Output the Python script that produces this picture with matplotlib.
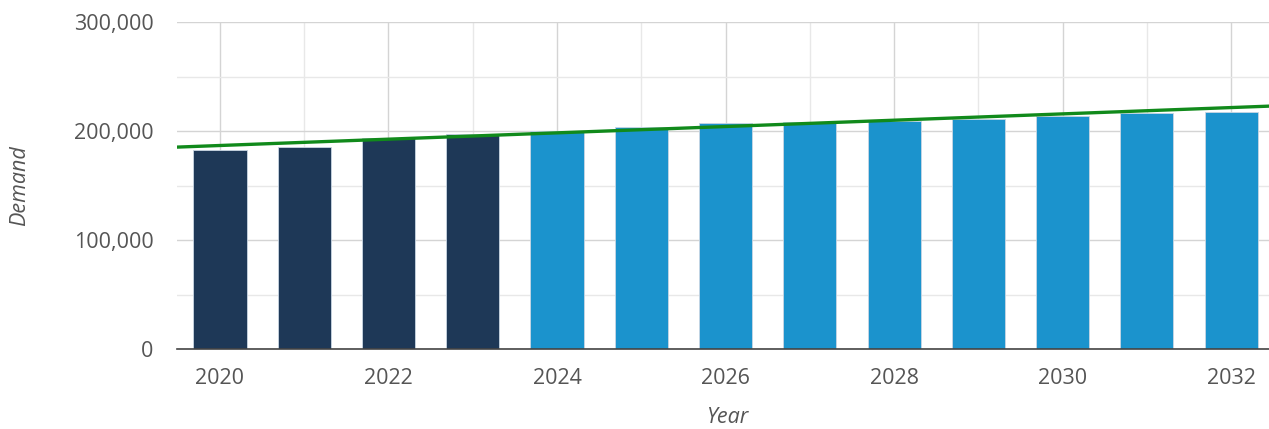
import matplotlib
matplotlib.use("Agg")
import matplotlib.pyplot as plt
from matplotlib.ticker import FuncFormatter, MultipleLocator

# Demand per year; first four years are actuals
years = [2020, 2021, 2022, 2023, 2024, 2025, 2026, 2027, 2028, 2029, 2030, 2031, 2032]
demand = [182500, 185500, 193800, 197200, 200000, 203600, 207000, 208000,
          209400, 210900, 213900, 216100, 217600]
actual_years = 4

# trend line, read at the first and last year
trend_years = [2020, 2032]
trend_values = [186700, 221500]

DARK = "#1e3857"
LIGHT = "#1b93cd"
GREEN = "#118a1b"
TEXT = "#555555"

plt.rcParams["font.family"] = ["Open Sans", "DejaVu Sans"]

fig = plt.figure(figsize=(12.69, 4.29), dpi=100)
ax = fig.add_axes([177 / 1269, 80 / 429, 1 - 177 / 1269, 327 / 429])

colors = [DARK if i < actual_years else LIGHT for i in range(len(years))]
ax.bar(years, demand, width=0.63, color=colors, edgecolor="#c9d6e3",
       linewidth=0.6, zorder=3)
ax.axline((trend_years[0], trend_values[0]), (trend_years[1], trend_values[1]),
          color=GREEN, linewidth=2.4, zorder=4)

ax.set_xlim(2019.49, 2032.45)
ax.set_ylim(0, 300000)

ax.xaxis.set_major_locator(MultipleLocator(2))
ax.xaxis.set_minor_locator(MultipleLocator(1))
ax.yaxis.set_major_locator(MultipleLocator(100000))
ax.yaxis.set_minor_locator(MultipleLocator(50000))
ax.yaxis.set_major_formatter(FuncFormatter(lambda v, p: f"{int(v):,}"))
ax.xaxis.set_major_formatter(FuncFormatter(lambda v, p: f"{int(v)}"))

ax.grid(which="major", color="#d4d4d4", linewidth=1.0, zorder=0)
ax.grid(which="minor", color="#e8e8e8", linewidth=1.0, zorder=0)
ax.set_axisbelow(True)

for s in ["top", "right", "left"]:
    ax.spines[s].set_visible(False)
ax.spines["bottom"].set_color("#444444")
ax.spines["bottom"].set_linewidth(1.2)
ax.spines["bottom"].set_zorder(5)

ax.tick_params(which="both", length=0)
ax.tick_params(axis="y", pad=17, labelsize=15.5, labelcolor=TEXT)
ax.tick_params(axis="x", pad=14, labelsize=15.5, labelcolor=TEXT)

ax.set_ylabel("Demand", fontsize=15.5, style="italic", color=TEXT)
ax.yaxis.set_label_coords(-0.1345, 0.5)
ax.set_xlabel("Year", fontsize=15.5, style="italic", color=TEXT)
ax.xaxis.set_label_coords(0.504, -0.209)
ax.xaxis.label.set_va("center")

fig.savefig("out.png", dpi=100)
